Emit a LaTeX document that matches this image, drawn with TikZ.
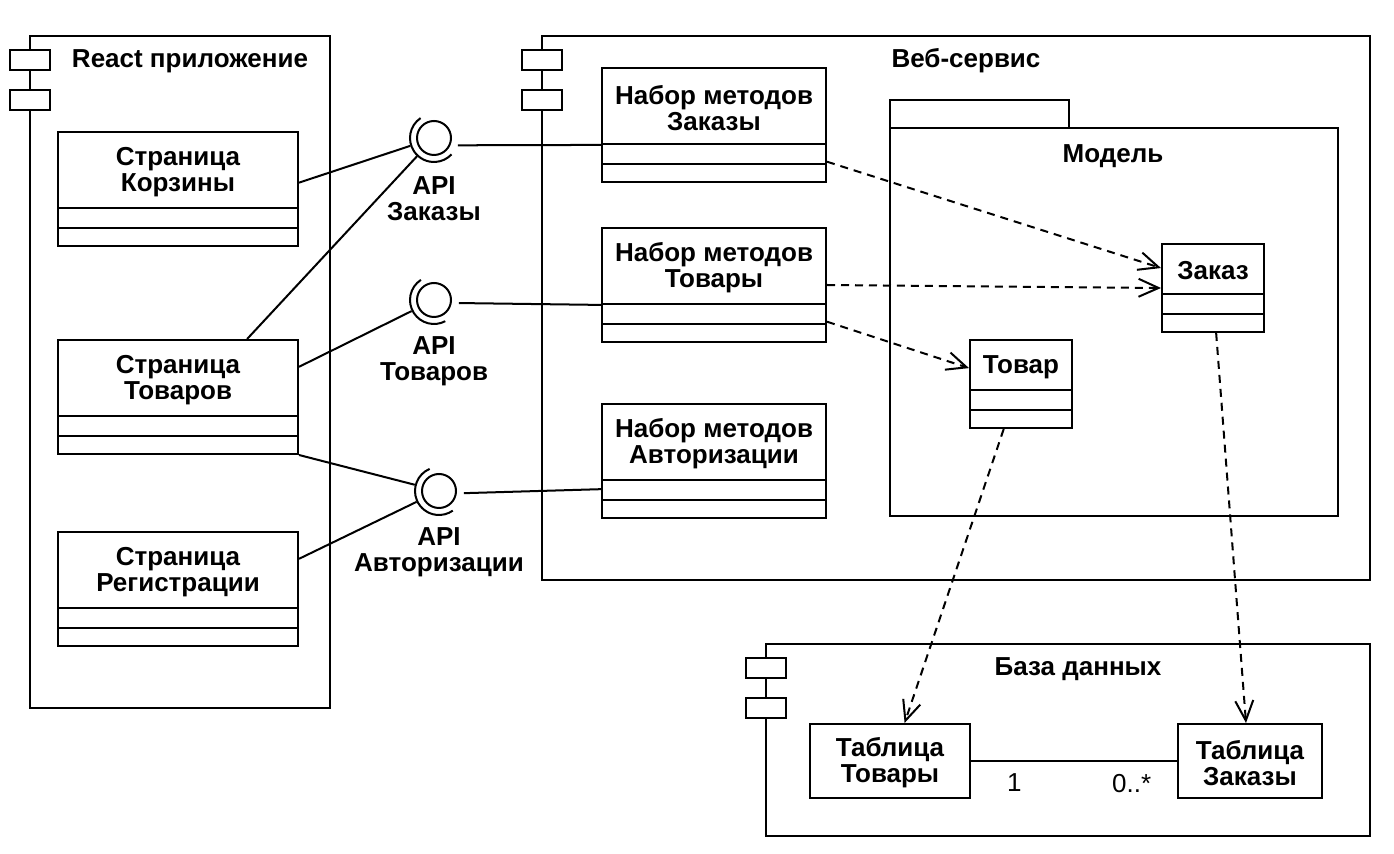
\documentclass[tikz,border=0pt]{standalone}
\usepackage{fontspec}
\setmainfont{Liberation Sans}
\usetikzlibrary{fit,arrows.meta}

\newcommand{\diafont}{\fontsize{14.8}{14.8}\selectfont}

\tikzset{
    classbox/.style={draw, rectangle, inner sep=0pt},
    classtitle/.style={font=\diafont\bfseries, align=center, inner sep=0pt},
    title/.style={font=\diafont\bfseries, inner sep=0pt},
    mult/.style={font=\diafont, inner sep=0pt},
    iface/.style={draw, circle, minimum size=0.68cm, inner sep=0pt},
    socket/.style={circle, minimum size=0.96cm, inner sep=0pt},
    depend/.style={dash pattern=on 0.16cm off 0.12cm,
        -{Straight Barb[length=0.4cm, width=0.36cm]}},
}

% component frame with its two tabs: x1, y1, x2, y2
\newcommand{\component}[4]{%
    \draw (#1,#2) rectangle (#3,#4);
    \draw[fill=white] (#1-20,#2+14) rectangle (#1+20,#2+34);
    \draw[fill=white] (#1-20,#2+54) rectangle (#1+20,#2+74);
}

% class box: name, x1, y1, x2, header bottom, title
\newcommand{\umlclass}[6]{%
    \node[classbox, fit={(#2,#3)(#4,#5+38)}] (#1) {};
    \draw (#2,#5) -- (#4,#5);
    \draw (#2,#5+20) -- (#4,#5+20);
    \node[classtitle] (#1-t) at ({(#2+#4)/2},{(#3+#5)/2+2}) {#6};
}

% provided interface with socket: name, x, y, arc start, arc end, label
\newcommand{\apiface}[6]{%
    \node[iface] (#1) at (#2,#3) {};
    \node[socket] (#1-s) at (#2,#3) {};
    \draw ([shift={(#4:24)}]#1.center) arc (#4:#5:24);
    \node[classtitle] (#1-l) at (#2,#3+61) {#6};
}

\begin{document}
\begin{tikzpicture}[x=0.02cm, y=-0.02cm, line width=1.14pt]
    \useasboundingbox (0,0) rectangle (1394,854);

    \component{30}{36}{330}{708}
    \node[title] (react) at (190,61) {React приложение};
    \component{542}{36}{1370}{580}
    \node[title] (web) at (966,61) {Веб-сервис};
    \component{766}{644}{1370}{836}
    \node[title] (db) at (1078,669) {База данных};

    \draw (890,100) rectangle (1069,128);
    \draw (890,128) rectangle (1338,516);
    \node[title] (model) at (1113,156) {Модель};

    \umlclass{korz}{58}{132}{298}{208}{Страница\\Корзины}
    \umlclass{tovp}{58}{340}{298}{416}{Страница\\Товаров}
    \umlclass{regp}{58}{532}{298}{608}{Страница\\Регистрации}
    \umlclass{mzak}{602}{68}{826}{144}{Набор методов\\Заказы}
    \umlclass{mtov}{602}{228}{826}{304}{Набор методов\\Товары}
    \umlclass{mavt}{602}{404}{826}{480}{Набор методов\\Авторизации}
    \umlclass{zakaz}{1162}{244}{1264}{294}{Заказ}
    \umlclass{tovar}{970}{340}{1072}{390}{Товар}

    \node[classbox, fit={(810,724)(970,798)}] (ttov) {};
    \node[classtitle] (ttov-t) at (890,763) {Таблица\\Товары};
    \node[classbox, fit={(1178,724)(1322,798)}] (tzak) {};
    \node[classtitle] (tzak-t) at (1250,763) {Таблица\\Заказы};

    \apiface{apizak}{434}{138}{236}{43}{API\\Заказы}
    \apiface{apitov}{434}{300}{237}{62}{API\\Товаров}
    \apiface{apiavt}{439}{491}{247}{55}{API\\Авторизации}

    \draw (korz.3) -- (apizak-s);
    \draw (tovp.40) -- (apizak-s);
    \draw (apizak-s.-17) -- (mzak.190);
    \draw (tovp.14) -- (apitov-s);
    \draw (apitov-s.-7) -- (mtov.190);
    \draw (tovp.south east) -- (apiavt-s);
    \draw (regp.14) -- (apiavt-s);
    \draw (apiavt-s.-5) -- (mavt.194);

    \draw[depend] (mzak.-18) -- (zakaz.159);
    \draw[depend] (mtov.east) -- (zakaz.west);
    \draw[depend] (mtov.-18) -- (tovar.163);
    \draw[depend] (tovar.249) -- (ttov.69);
    \draw[depend] (zakaz.-86) -- (tzak.96);

    \draw (ttov) -- (tzak)
        node[mult, pos=0.21, below=0.24cm] {1}
        node[mult, pos=0.78, below=0.24cm] {0..*};
\end{tikzpicture}
\end{document}
